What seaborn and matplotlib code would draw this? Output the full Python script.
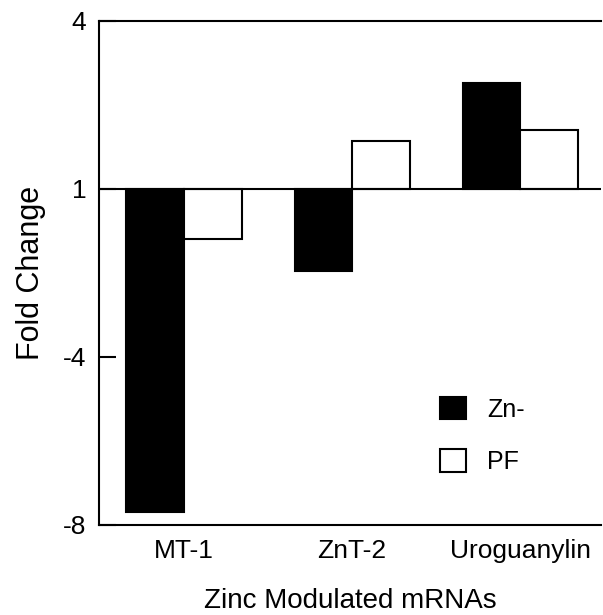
import numpy as np
import pandas as pd
import matplotlib
matplotlib.use("Agg")
import matplotlib.pyplot as plt
import seaborn as sns

categories = ["MT-1", "ZnT-2", "Uroguanylin"]
zn_minus = [-7.7, -1.45, 2.9]
pf = [-0.5, 1.85, 2.05]
groups = ["Zn-", "PF"]
tick_folds = [-8, -4, 1, 4]

sns.set_theme(style="white")
plt.rcParams["font.family"] = ["Liberation Sans", "DejaVu Sans"]
plt.rcParams.update({
    "text.color": "black", "axes.labelcolor": "black",
    "xtick.color": "black", "ytick.color": "black",
    "axes.edgecolor": "black",
})

df = pd.DataFrame({
    "mRNA": categories * 2,
    "group": ["Zn-"] * 3 + ["PF"] * 3,
    "fold": zn_minus + pf,
})
df["change"] = df["fold"] - 1  # bars grow from fold = 1

tick_changes = np.array(tick_folds, dtype=float) - 1
tick_pos = np.arange(len(tick_folds), dtype=float)

def fwd(v):
    return np.interp(v, tick_changes, tick_pos)

def inv(p):
    return np.interp(p, tick_pos, tick_changes)

fig = plt.figure(figsize=(6.03, 6.15), dpi=100)
ax = fig.add_axes([99 / 603, 1 - 525 / 615, (601 - 99) / 603, (525 - 21) / 615])

sns.barplot(data=df, x="mRNA", y="change", hue="group", hue_order=groups,
            palette={"Zn-": "black", "PF": "white"}, edgecolor="black",
            linewidth=1.5, width=0.685, ax=ax, errorbar=None, saturation=1)

ax.set_yscale("function", functions=(fwd, inv))
ax.set_ylim(tick_changes[0], tick_changes[-1])
ax.set_yticks(tick_changes)
ax.set_yticklabels([str(t) for t in tick_folds])
ax.yaxis.set_minor_locator(matplotlib.ticker.NullLocator())
ax.set_xlim(-0.505, 2.48)
ax.axhline(0, color="black", lw=1.5, zorder=5)
ax.set_axisbelow(False)

for s in ["left", "top", "bottom"]:
    ax.spines[s].set_visible(True)
    ax.spines[s].set_color("black")
    ax.spines[s].set_linewidth(1.5)
ax.spines["right"].set_visible(False)

ax.tick_params(axis="y", which="major", direction="in", length=12, width=1.5,
               labelsize=19, pad=9, left=True, colors="black")
ax.tick_params(axis="x", length=0, labelsize=19, pad=10, colors="black")

ax.set_xlabel("Zinc Modulated mRNAs", fontsize=20, labelpad=18, color="black")
ax.set_ylabel("Fold Change", fontsize=22, labelpad=12, color="black")

handles, labels = ax.get_legend_handles_labels()
leg = ax.legend(handles=handles, labels=labels, loc="upper left",
                bbox_to_anchor=(440 / 603, 1 - 397 / 615), bbox_transform=fig.transFigure,
                frameon=False, borderpad=0, borderaxespad=0, fontsize=18,
                handlelength=1.04, handleheight=1.0, handletextpad=0.84, labelspacing=1.1)
for t in leg.get_texts():
    t.set_color("black")

fig.savefig("out.png", dpi=100)
